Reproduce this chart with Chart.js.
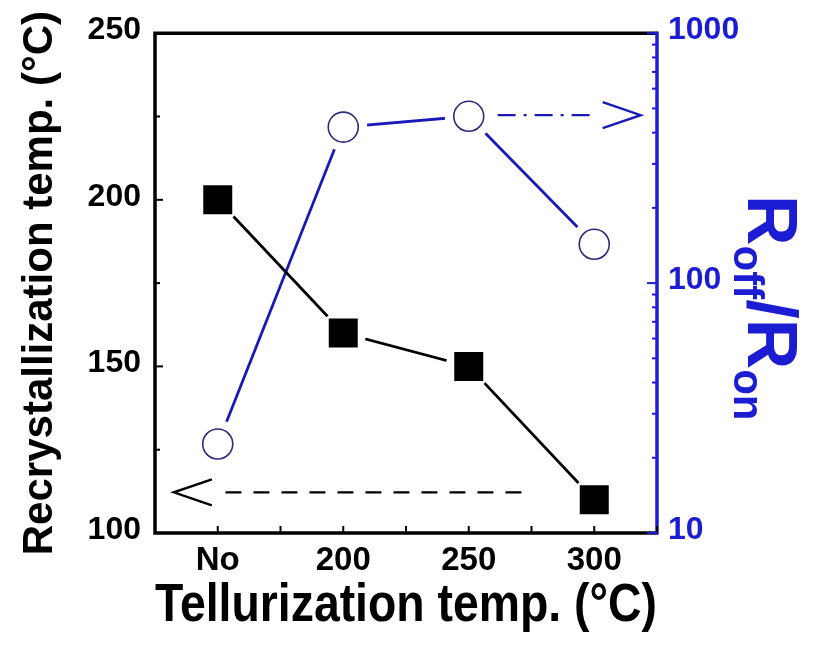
<!DOCTYPE html>
<html><head><meta charset="utf-8">
<script src="https://cdn.jsdelivr.net/npm/chart.js@4/dist/chart.umd.min.js"></script>
<style>html,body{margin:0;padding:0;background:#fff}#wrap{width:821px;height:657px}</style>
</head><body><div id="wrap"><canvas id="c" width="821" height="657"></canvas></div>
<script>
// ---- data ----
const categories = ['No', '200', '250', '300'];
const recrystTemp = [200, 160, 150, 110];          // left axis (°C)
const roffRon = [22.7, 421, 465, 143];             // right axis (log)
const xTickPositions = [-0.5, 0, 0.5, 1, 1.5, 2, 2.5, 3, 3.5];
const leftTicks = [100, 125, 150, 175, 200, 225, 250];
const leftLabels = [100, 150, 200, 250];
const rightTicks = [10, 20, 30, 40, 50, 60, 70, 80, 90, 100, 200, 300, 400, 500, 600, 700, 800, 900, 1000];
const rightLabels = [10, 100, 1000];
// annotation arrows (in data units)
const arrowLeft = { y: 112.2, from: 2.42, to: -0.35 };
const arrowRight = { y: 470, from: 2.23, to: 3.37 };
const xTitle = 'Tellurization temp. (°C)';
const yTitle = 'Recrystallization temp. (°C)';
const y2TitleParts = [['R', 0], ['off', 1], ['/', 0], ['R', 0], ['on', 1]];

const FONT = "'Liberation Sans Narrow','Arial Narrow','Liberation Sans',Arial,sans-serif";
const BLUE = '#1c1cd2';
const LINEBLUE = '#1a1ab8';

const pts = arr => arr.map((v, i) => ({ x: i, y: v }));

const deco = {
  id: 'deco',
  afterDatasetsDraw(chart) {
    const ctx = chart.ctx;
    const { x, y, y2 } = chart.scales;
    ctx.save();
    function arrow(sc, a, color, dash) {
      const yy = sc.getPixelForValue(a.y);
      const x0 = x.getPixelForValue(a.from), x1 = x.getPixelForValue(a.to);
      const dir = Math.sign(x1 - x0);
      ctx.strokeStyle = color; ctx.lineWidth = 2.4;
      ctx.setLineDash(dash);
      ctx.beginPath(); ctx.moveTo(x0, yy); ctx.lineTo(x1 - dir * 48, yy); ctx.stroke();
      ctx.setLineDash([]);
      ctx.beginPath();
      ctx.moveTo(x1 - dir * 38, yy - 13); ctx.lineTo(x1, yy); ctx.lineTo(x1 - dir * 38, yy + 13);
      ctx.stroke();
    }
    arrow(y, arrowLeft, '#000', [16, 12]);
    arrow(y2, arrowRight, LINEBLUE, [18, 8, 3, 8]);
    ctx.restore();
  },
  afterDraw(chart) {
    const ctx = chart.ctx;
    const { x, y, y2 } = chart.scales;
    const ca = chart.chartArea;
    ctx.save();
    ctx.lineCap = 'butt';
    ctx.lineWidth = 3.5;
    ctx.strokeStyle = '#000';
    ctx.beginPath();
    ctx.moveTo(ca.right, ca.top); ctx.lineTo(ca.left, ca.top); ctx.lineTo(ca.left, ca.bottom); ctx.lineTo(ca.right, ca.bottom);
    ctx.stroke();
    ctx.strokeStyle = BLUE;
    ctx.beginPath(); ctx.moveTo(ca.right, ca.top - 1.75); ctx.lineTo(ca.right, ca.bottom + 1.75); ctx.stroke();
    ctx.lineWidth = 2;
    ctx.strokeStyle = '#000';
    xTickPositions.forEach(v => {
      const p = x.getPixelForValue(v);
      ctx.beginPath(); ctx.moveTo(p, ca.bottom); ctx.lineTo(p, ca.bottom - 7); ctx.stroke();
    });
    leftTicks.forEach(v => {
      const p = y.getPixelForValue(v);
      const len = leftLabels.includes(v) ? 8 : 5;
      ctx.beginPath(); ctx.moveTo(ca.left, p); ctx.lineTo(ca.left + len, p); ctx.stroke();
    });
    ctx.strokeStyle = BLUE;
    rightTicks.forEach(v => {
      const p = y2.getPixelForValue(v);
      const len = rightLabels.includes(v) ? 10 : 5;
      ctx.beginPath(); ctx.moveTo(ca.right, p); ctx.lineTo(ca.right - len, p); ctx.stroke();
    });
    ctx.fillStyle = BLUE;
    ctx.translate(748, 195);
    ctx.rotate(Math.PI / 2);
    ctx.textAlign = 'left';
    ctx.textBaseline = 'alphabetic';
    let cx = 0;
    y2TitleParts.forEach(([t, sub]) => {
      ctx.font = sub ? `bold 42px ${FONT}` : `bold 70px ${FONT}`;
      ctx.fillText(t, cx, sub ? 14 : 0);
      cx += ctx.measureText(t).width;
    });
    ctx.restore();
  }
};

new Chart(document.getElementById('c'), {
  type: 'line',
  data: {
    datasets: [
      { data: pts(recrystTemp), yAxisID: 'y', borderColor: '#000', borderWidth: 2.8, pointRadius: 0, order: 10 },
      { data: pts(roffRon), yAxisID: 'y2', borderColor: LINEBLUE, borderWidth: 2.8, pointRadius: 0, order: 10 },
      { data: pts(recrystTemp), yAxisID: 'y', showLine: false, pointRadius: 23, pointBackgroundColor: '#fff', pointBorderColor: '#fff', pointBorderWidth: 0, order: 5 },
      { data: pts(roffRon), yAxisID: 'y2', showLine: false, pointRadius: 24, pointBackgroundColor: '#fff', pointBorderColor: '#fff', pointBorderWidth: 0, order: 5 },
      { data: pts(recrystTemp), yAxisID: 'y', showLine: false, pointStyle: 'rect', pointRadius: 20.5, pointBackgroundColor: '#000', pointBorderColor: '#000', pointBorderWidth: 0, order: 1 },
      { data: pts(roffRon), yAxisID: 'y2', showLine: false, pointStyle: 'circle', pointRadius: 15, pointBackgroundColor: '#fff', pointBorderColor: '#2a2a78', pointBorderWidth: 1.6, order: 1 }
    ]
  },
  options: {
    responsive: false,
    devicePixelRatio: 1,
    animation: false,
    layout: { padding: { top: 27, left: 0, right: 0, bottom: 0 } },
    plugins: { legend: { display: false }, tooltip: { enabled: false } },
    elements: { line: { tension: 0 } },
    scales: {
      x: {
        type: 'linear', min: -0.5, max: 3.5,
        afterBuildTicks: s => { s.ticks = xTickPositions.map(v => ({ value: v })); },
        afterFit: s => { s.height = 124; },
        grid: { display: false, drawTicks: false },
        border: { display: false },
        ticks: {
          autoSkip: false, maxRotation: 0, minRotation: 0, padding: 8, color: '#000',
          font: { family: FONT, size: 33, weight: 'bold' },
          callback: v => (Number.isInteger(v) && v >= 0 && v < categories.length) ? categories[v] : ''
        },
        title: { display: true, text: xTitle, color: '#000', font: { family: FONT, size: 53, weight: 'bold' }, padding: { top: 0, bottom: 19 } }
      },
      y: {
        type: 'linear', position: 'left', min: 100, max: 250,
        afterBuildTicks: s => { s.ticks = leftTicks.map(v => ({ value: v })); },
        afterFit: s => { s.width = 155; },
        grid: { display: false, drawTicks: false },
        border: { display: false },
        ticks: {
          autoSkip: false, padding: 14, color: '#000', labelOffset: -3,
          font: { family: FONT, size: 32, weight: 'bold' },
          callback: v => leftLabels.includes(v) ? String(v) : ''
        },
        title: { display: true, text: yTitle, color: '#000', font: { family: FONT, size: 42, weight: 'bold' }, padding: { top: 15, bottom: 0 } }
      },
      y2: {
        type: 'logarithmic', position: 'right', min: 10, max: 1000,
        afterBuildTicks: s => { s.ticks = rightTicks.map(v => ({ value: v })); },
        afterFit: s => { s.width = 164; },
        grid: { display: false, drawTicks: false },
        border: { display: false },
        ticks: {
          autoSkip: false, padding: 11, color: BLUE, labelOffset: -3,
          font: { family: FONT, size: 32, weight: 'bold' },
          callback: v => rightLabels.includes(v) ? String(v) : ''
        }
      }
    }
  },
  plugins: [deco]
});
</script>
</body></html>
